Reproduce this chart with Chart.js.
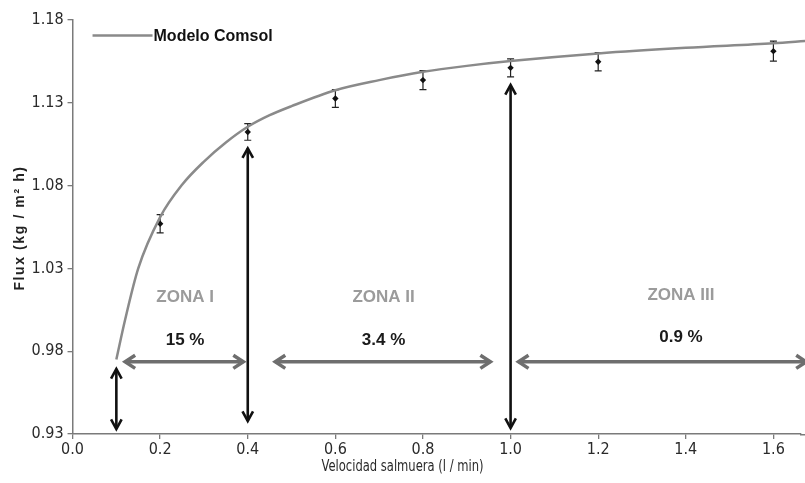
<!DOCTYPE html>
<html><head><meta charset="utf-8">
<script src="https://cdn.jsdelivr.net/npm/chart.js@4.4.1/dist/chart.umd.min.js"></script>
<style>html,body{margin:0;padding:0;background:#fff}#wrap{width:805px;height:483px;position:relative}</style>
</head><body><div id="wrap"><canvas id="c"></canvas></div>
<script>
// ---- data ----
const modelX = [0.1, 0.12, 0.15, 0.2, 0.25, 0.3, 0.35, 0.4, 0.45, 0.5, 0.6, 0.7, 0.8, 0.9, 1.0, 1.2, 1.4, 1.6, 1.675];
const modelY = [0.975, 0.999, 1.030, 1.061, 1.0805, 1.0945, 1.1060, 1.1155, 1.1225, 1.128, 1.1376, 1.1437, 1.1487, 1.1523, 1.1552, 1.1598, 1.1632, 1.1659, 1.1673];
const expX = [0.2, 0.4, 0.6, 0.8, 1.0, 1.2, 1.6];
const expY = [1.057, 1.1124, 1.1326, 1.1437, 1.1511, 1.1548, 1.1612];
const expErr = [0.0055, 0.005, 0.0054, 0.0058, 0.0054, 0.0055, 0.006];
const xTickValues = [0.0, 0.2, 0.4, 0.6, 0.8, 1.0, 1.2, 1.4, 1.6];
const yTickValues = [0.93, 0.98, 1.03, 1.08, 1.13, 1.18];
const zoneNames = ['ZONA I', 'ZONA II', 'ZONA III'];
const zonePercents = ['15 %', '3.4 %', '0.9 %'];
const zoneCenterX = [0.257, 0.710, 1.389];
const zoneNameY = [1.0125, 1.0125, 1.0135];
const zonePctY = [0.9863, 0.9863, 0.9883];
const zoneArrowFrom = [0.12, 0.4627, 1.018];
const zoneArrowTo = [0.39, 0.954, 1.675];
const zoneArrowY = 0.9736;
const vArrowX = [0.1, 0.4, 1.0];
const vArrowTop = [0.9693, 1.1025, 1.1407];
const vArrowBottom = [0.933, 0.9379, 0.9336];
const legendLabel = 'Modelo Comsol';
const xTitle = 'Velocidad salmuera (l / min)';
const yTitle = 'Flux (kg / m\u00B2 h)';

const NARROW = "'Liberation Sans Narrow', 'DejaVu Sans Condensed', Arial, sans-serif";
const SANS = "'Liberation Sans', Arial, sans-serif";
const AXIS_COLOR = '#7a7a7a';

function arrowHead(ctx, tx, ty, ang, len, spread) {
  ctx.beginPath();
  ctx.moveTo(tx + len * Math.cos(ang + spread), ty + len * Math.sin(ang + spread));
  ctx.lineTo(tx, ty);
  ctx.lineTo(tx + len * Math.cos(ang - spread), ty + len * Math.sin(ang - spread));
  ctx.stroke();
}
function dblArrow(ctx, x1, y1, x2, y2, color, w, len, spread) {
  ctx.save();
  ctx.strokeStyle = color; ctx.lineWidth = w; ctx.lineCap = 'butt'; ctx.lineJoin = 'miter';
  ctx.beginPath(); ctx.moveTo(x1, y1); ctx.lineTo(x2, y2); ctx.stroke();
  const a = Math.atan2(y2 - y1, x2 - x1);
  arrowHead(ctx, x1, y1, a, len, spread);
  arrowHead(ctx, x2, y2, a + Math.PI, len, spread);
  ctx.restore();
}

const errorBars = {
  id: 'errorBars',
  beforeDatasetsDraw(chart) {
    const {ctx, scales: {x, y}, chartArea, width} = chart;
    ctx.save();
    ctx.strokeStyle = AXIS_COLOR; ctx.lineWidth = 1.5;
    ctx.beginPath(); ctx.moveTo(chartArea.right - 1, chartArea.bottom + 0.75); ctx.lineTo(width, chartArea.bottom + 0.75); ctx.stroke();
    ctx.strokeStyle = '#222'; ctx.lineWidth = 1.2;
    expX.forEach((v, i) => {
      const px = x.getPixelForValue(v);
      const t = y.getPixelForValue(expY[i] + expErr[i]);
      const b = y.getPixelForValue(expY[i] - expErr[i]);
      ctx.beginPath();
      ctx.moveTo(px, t); ctx.lineTo(px, b);
      ctx.moveTo(px - 3.5, t); ctx.lineTo(px + 3.5, t);
      ctx.moveTo(px - 3.5, b); ctx.lineTo(px + 3.5, b);
      ctx.stroke();
    });
    ctx.restore();
  }
};

const overlay = {
  id: 'overlay',
  afterDraw(chart) {
    const {ctx, scales: {x, y}, chartArea} = chart;
    vArrowX.forEach((v, i) => {
      const px = x.getPixelForValue(v);
      dblArrow(ctx, px, y.getPixelForValue(vArrowTop[i]), px, y.getPixelForValue(vArrowBottom[i]), '#111', 2.6, 11, 0.5);
    });
    const ay = y.getPixelForValue(zoneArrowY);
    zoneArrowFrom.forEach((v, i) => {
      dblArrow(ctx, x.getPixelForValue(v), ay, x.getPixelForValue(zoneArrowTo[i]), ay, '#6e6e6e', 3.5, 12, 0.58);
    });
    ctx.save();
    ctx.textAlign = 'center'; ctx.textBaseline = 'middle';
    zoneNames.forEach((t, i) => {
      const px = x.getPixelForValue(zoneCenterX[i]);
      ctx.font = 'bold 17px ' + SANS; ctx.fillStyle = '#9b9b9b';
      ctx.fillText(t, px, y.getPixelForValue(zoneNameY[i]));
      ctx.fillStyle = '#1a1a1a';
      ctx.fillText(zonePercents[i], px, y.getPixelForValue(zonePctY[i]));
    });
    ctx.restore();
    // legend
    ctx.save();
    const lx = chartArea.left + 20, ly = chartArea.top + 15.5;
    ctx.strokeStyle = '#8a8a8a'; ctx.lineWidth = 2.5;
    ctx.beginPath(); ctx.moveTo(lx, ly); ctx.lineTo(lx + 60, ly); ctx.stroke();
    ctx.fillStyle = '#111'; ctx.font = 'bold 16px ' + SANS;
    ctx.textAlign = 'left'; ctx.textBaseline = 'middle';
    ctx.fillText(legendLabel, lx + 61, ly + 1);
    ctx.restore();
    // y title
    ctx.save();
    ctx.translate(20, (chartArea.top + chartArea.bottom) / 2 + 1);
    ctx.rotate(-Math.PI / 2);
    ctx.font = 'bold 14px ' + SANS; ctx.fillStyle = '#222';
    if ('letterSpacing' in ctx) ctx.letterSpacing = '1.6px';
    ctx.textAlign = 'center'; ctx.textBaseline = 'middle';
    ctx.fillText(yTitle, 0, 0);
    ctx.restore();
    // x title (the original plot is cropped on the right, so its title sits left of centre)
    ctx.save();
    ctx.font = '16px ' + NARROW; ctx.fillStyle = '#2a2a2a';
    const w = ctx.measureText(xTitle).width;
    const sx = Math.min(1, 162 / w);
    ctx.translate(chartArea.left + 330, chartArea.bottom + 33);
    ctx.scale(sx, 1);
    ctx.textAlign = 'center'; ctx.textBaseline = 'middle';
    ctx.fillText(xTitle, 0, 0);
    ctx.restore();
  }
};

new Chart(document.getElementById('c'), {
  type: 'scatter',
  data: {
    datasets: [
      {
        label: legendLabel,
        data: modelX.map((v, i) => ({x: v, y: modelY[i]})),
        showLine: true, borderColor: '#8a8a8a', backgroundColor: '#8a8a8a',
        borderWidth: 2.5, pointRadius: 0, cubicInterpolationMode: 'monotone', clip: false
      },
      {
        label: 'Experimental',
        data: expX.map((v, i) => ({x: v, y: expY[i]})),
        showLine: false, pointStyle: 'rectRot', pointRadius: 3.2,
        backgroundColor: '#111', borderColor: '#111', borderWidth: 0
      }
    ]
  },
  options: {
    responsive: true, maintainAspectRatio: false, animation: false,
    devicePixelRatio: 1,
    layout: {padding: {top: 20, left: 27.5, right: 0, bottom: 22}},
    plugins: {legend: {display: false}, tooltip: {enabled: false}},
    scales: {
      x: {
        type: 'linear', min: 0, max: 1.663,
        afterBuildTicks: s => { s.ticks = xTickValues.map(v => ({value: v})); },
        ticks: {
          callback: v => Number(v).toFixed(1),
          font: {family: NARROW, size: 16, lineHeight: 1}, color: '#2a2a2a', padding: 3, maxRotation: 0
        },
        grid: {display: true, drawOnChartArea: false, drawTicks: true, tickLength: 5, color: AXIS_COLOR, lineWidth: 1.3},
        border: {display: true, color: AXIS_COLOR, width: 1.5},
        title: {display: false}
      },
      y: {
        type: 'linear', min: 0.93, max: 1.18,
        afterBuildTicks: s => { s.ticks = yTickValues.map(v => ({value: v})); },
        ticks: {
          callback: v => Number(v).toFixed(2),
          font: {family: NARROW, size: 16, lineHeight: 1}, color: '#2a2a2a', padding: 4
        },
        grid: {display: true, drawOnChartArea: false, drawTicks: true, tickLength: 5, color: AXIS_COLOR, lineWidth: 1.3},
        border: {display: true, color: AXIS_COLOR, width: 1.5}
      }
    }
  },
  plugins: [errorBars, overlay]
});
</script></body></html>
